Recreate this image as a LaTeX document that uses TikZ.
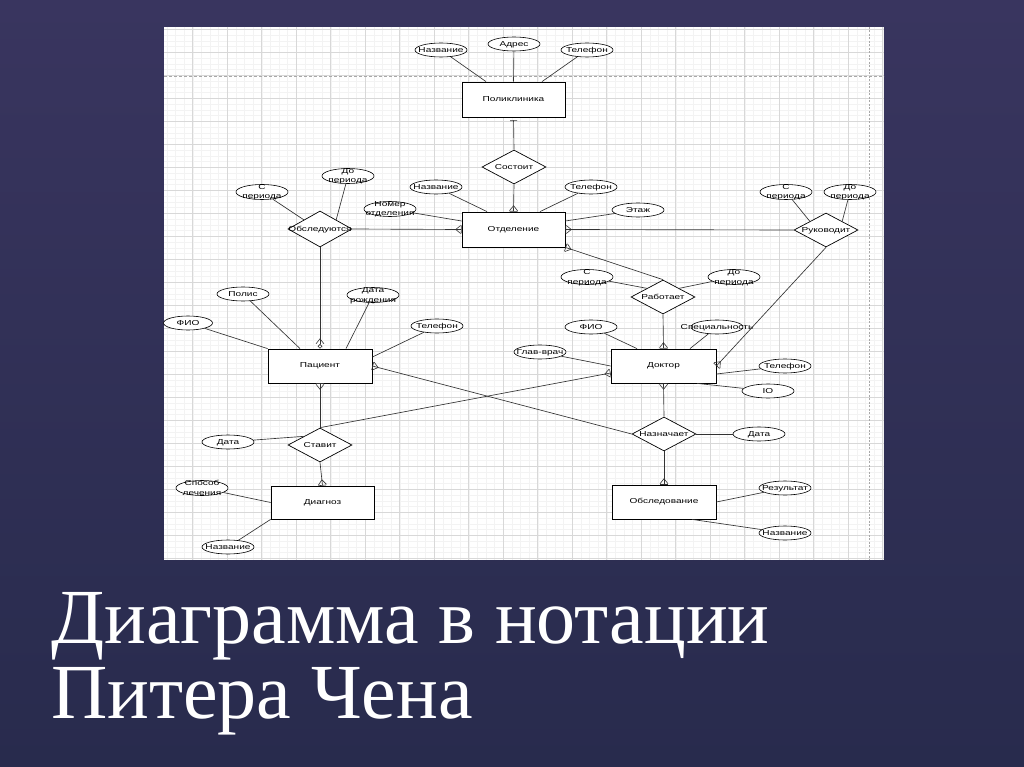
\documentclass[tikz,border=0pt]{standalone}
\usepackage{fontspec}
\newfontfamily\dfont[FakeStretch=1.4]{Liberation Sans}
\newfontfamily\tfont{Liberation Serif}
\usetikzlibrary{shapes.geometric,arrows.meta}
\definecolor{bgtop}{HTML}{39355F}
\definecolor{bgbot}{HTML}{282B4D}
\definecolor{gmaj}{HTML}{D8D8D8}
\definecolor{gmin}{HTML}{F3F3F3}
\definecolor{gdash}{HTML}{A8A8A8}
\definecolor{ln}{HTML}{333333}
\newcommand\one[1]{\makebox[0pt]{\raisebox{-2.5pt}[0pt][0pt]{#1}}}
\newcommand\two[2]{\makebox[0pt]{\raisebox{-7pt}[0pt][0pt]{\def\arraystretch{1.05}\begin{tabular}[b]{@{}c@{}}#1\\#2\end{tabular}}}}
\tikzset{
  ent/.style={draw=black, line width=0.8pt, fill=white, rectangle, minimum width=104pt, minimum height=34pt, inner sep=0pt},
  rel/.style={draw=black, line width=0.7pt, fill=white, diamond, minimum width=64pt, minimum height=34pt, inner sep=0pt},
  att/.style={draw=black, line width=0.6pt, fill=white, ellipse, minimum width=52pt, minimum height=14pt, inner sep=0pt},
  con/.style={draw=ln, line width=0.65pt},
  many/.style={arrows={-{Straight Barb[reversed,length=5pt,width=8pt,line width=0.6pt] Bar[width=8pt,line width=0.6pt]}}},
  manyz/.style={arrows={-{Straight Barb[reversed,length=5pt,width=8pt,line width=0.6pt] Circle[open,length=4.5pt,width=4.5pt,line width=0.6pt]}}},
  onebar/.style={arrows={-{Bar[width=7pt,line width=0.6pt] Bar[width=0pt,line width=0.01pt,sep=3pt]}}},
  title/.style={anchor=base west, inner sep=0pt, text=white, font=\tfont\fontsize{78}{80}\selectfont}
}
\begin{document}
\begin{tikzpicture}[x=1pt,y=-1pt,font=\dfont\fontsize{7.2}{8.6}\selectfont]
\useasboundingbox (0,0) rectangle (1024,767);
\shade[top color=bgtop, bottom color=bgbot] (0,0) rectangle (1024,767);
% sheet
\fill[white] (164,27) rectangle (884,560);
\begin{scope}
\clip (164,27) rectangle (884,560);
\foreach \i in {0,...,85} \draw[gmin, line width=0.4pt] ({158.2+8.625*\i},27) -- ({158.2+8.625*\i},560);
\foreach \j in {0,...,97} \draw[gmin, line width=0.4pt] (164,{6.3+5.75*\j}) -- (884,{6.3+5.75*\j});
\foreach \i in {0,...,21} \draw[gmaj, line width=0.6pt] ({158.2+34.5*\i},27) -- ({158.2+34.5*\i},560);
\foreach \j in {0,...,24} \draw[gmaj, line width=0.6pt] (164,{6.3+23*\j}) -- (884,{6.3+23*\j});
\draw[gdash, line width=0.7pt, dash pattern=on 3pt off 2pt] (164,76) -- (884,76);
\draw[gdash, line width=0.9pt, dash pattern=on 2pt off 1.5pt] (869,27) -- (869,560);
\end{scope}

% entities
\node[ent, minimum width=103pt, minimum height=35pt] (pol) at (513.5,99.5) {Поликлиника};
\node[ent, minimum width=103pt, minimum height=35pt] (otd) at (513.5,229.5) {Отделение};
\node[ent] (pac) at (320,366) {Пациент};
\node[ent, minimum width=105pt] (dok) at (663.5,366) {Доктор};
\node[ent, minimum width=103pt, minimum height=33pt] (dia) at (322.5,502.5) {Диагноз};
\node[ent] (obs) at (664,502) {Обследование};

% relationships
\node[rel] (sost) at (514,167) {\one{Состоит}};
\node[rel, minimum height=36pt] (obsl) at (320,229) {\one{Обследуются}};
\node[rel] (ruk) at (826,230) {\one{Руководит}};
\node[rel] (rab) at (663,297) {\one{Работает}};
\node[rel] (stav) at (320,445) {\one{Ставит}};
\node[rel] (naz) at (664,434) {\one{Назначает}};

% attributes
\node[att] (a1) at (441,50) {\one{Название}};
\node[att] (a2) at (514,44) {\one{Адрес}};
\node[att] (a3) at (587,50) {\one{Телефон}};
\node[att] (b1) at (436,187) {\one{Название}};
\node[att, minimum height=15pt] (b2) at (390,209) {\two{Номер}{отделения}};
\node[att] (b3) at (591,187) {\one{Телефон}};
\node[att] (b4) at (638,210) {\one{Этаж}};
\node[att, minimum height=15pt] (c1) at (262,192) {\two{С}{периода}};
\node[att, minimum height=15pt] (c2) at (348,176) {\two{До}{периода}};
\node[att, minimum height=15pt] (d1) at (786,192) {\two{С}{периода}};
\node[att, minimum height=15pt] (d2) at (850,192) {\two{До}{периода}};
\node[att, minimum height=15pt] (e1) at (587,277) {\two{С}{периода}};
\node[att, minimum height=15pt] (e2) at (734,277) {\two{До}{периода}};
\node[att] (f1) at (243,294) {\one{Полис}};
\node[att, minimum height=15pt] (f2) at (373,295) {\two{Дата}{рождения}};
\node[att, minimum width=49pt] (f3) at (188,323) {\one{ФИО}};
\node[att] (f4) at (437,326) {\one{Телефон}};
\node[att] (g1) at (591,327) {\one{ФИО}};
\node[att] (g2) at (717,327) {\one{Специальность}};
\node[att] (g3) at (540,352) {\one{Глав-врач}};
\node[att] (g4) at (785,366) {\one{Телефон}};
\node[att] (g5) at (768,391) {\one{IO}};
\node[att] (h1) at (228,442) {\one{Дата}};
\node[att] (h2) at (759,434) {\one{Дата}};
\node[att, minimum height=15pt] (i1) at (202,488) {\two{Способ}{лечения}};
\node[att] (i2) at (228,547) {\one{Название}};
\node[att] (j1) at (785,488) {\one{Результат}};
\node[att] (j2) at (785,533) {\one{Название}};

% attribute connectors
\draw[con] (a1) -- ([xshift=-27.5pt]pol.north);
\draw[con] (a2) -- (pol.north);
\draw[con] (a3) -- ([xshift=28.5pt]pol.north);
\draw[con] (b1) -- ([xshift=-26.5pt]otd.north);
\draw[con] (b2) -- ([yshift=8.5pt]otd.west);
\draw[con] (b3) -- ([xshift=26.5pt]otd.north);
\draw[con] (b4) -- ([yshift=8.5pt]otd.east);
\draw[con] (c1) -- (obsl.north west);
\draw[con] (c2) -- (obsl.north east);
\draw[con] (d1) -- (ruk.north west);
\draw[con] (d2) -- (ruk.north east);
\draw[con] (e1) -- (rab.north west);
\draw[con] (e2) -- (rab.north east);
\draw[con] (f1) -- ([xshift=-20pt]pac.north);
\draw[con] (f2) -- ([xshift=26pt]pac.north);
\draw[con] (f3) -- (pac.north west);
\draw[con] (f4) -- ([yshift=9pt]pac.east);
\draw[con] (g1) -- ([xshift=-26.5pt]dok.north);
\draw[con] (g2) -- ([xshift=26.5pt]dok.north);
\draw[con] (g3) -- (dok.west);
\draw[con] (g4) -- ([yshift=-8pt]dok.east);
\draw[con] (g5) -- ([xshift=33.5pt]dok.south);
\draw[con] (h1) -- (stav.north west);
\draw[con] (h2) -- (naz.east);
\draw[con] (i1) -- (dia.west);
\draw[con] (i2) -- (dia.south west);
\draw[con] (j1) -- (obs.east);
\draw[con] (j2) -- ([xshift=28pt]obs.south);

% relationship connectors
\draw[con, onebar] (sost.north) -- (pol.south);
\draw[con, many] (sost.south) -- (otd.north);
\draw[con, many] (obsl.east) -- (otd.west);
\draw[con, manyz] (obsl.south) -- (pac.north);
\draw[con, many] (ruk.west) -- (otd.east);
\draw[con, many] (ruk.south) -- (dok.east);
\draw[con, many] (rab.north) -- (otd.south east);
\draw[con, many] (rab.south) -- (dok.north);
\draw[con, many] (stav.north) -- (pac.south);
\draw[con, many] (stav.south) -- (dia.north);
\draw[con, many] (stav.north) -- ([yshift=-7pt]dok.west);
\draw[con, many] (naz.north) -- (dok.south);
\draw[con, many] (naz.south) -- (obs.north);
\draw[con, many] (naz.west) -- (pac.east);

% title
\node[title] (t1) at (51,643) {Диаграмма в нотации};
\node[title] (t2) at (51,718) {Питера Чена};
\end{tikzpicture}
\end{document}
